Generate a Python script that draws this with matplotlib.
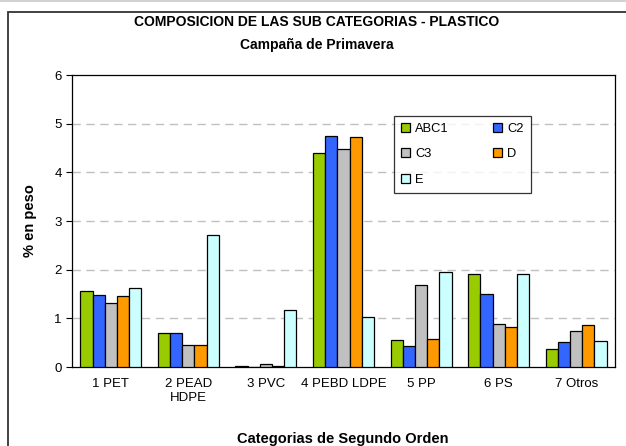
import matplotlib
matplotlib.use("Agg")
import matplotlib.pyplot as plt
import numpy as np
from matplotlib.patches import Rectangle
from matplotlib.lines import Line2D

plt.rcParams['font.family'] = ['Liberation Sans', 'DejaVu Sans']

categories = ["1 PET", "2 PEAD\nHDPE", "3 PVC", "4 PEBD LDPE", "5 PP", "6 PS", "7 Otros"]
series_names = ["ABC1", "C2", "C3", "D", "E"]
abc1 = [1.56, 0.70, 0.02, 4.39, 0.56, 1.92, 0.37]
c2 = [1.47, 0.70, 0.01, 4.75, 0.43, 1.49, 0.51]
c3 = [1.32, 0.45, 0.06, 4.47, 1.68, 0.89, 0.73]
d = [1.45, 0.45, 0.02, 4.73, 0.58, 0.83, 0.87]
e = [1.63, 2.71, 1.18, 1.02, 1.95, 1.92, 0.53]
series = [abc1, c2, c3, d, e]
colors = ["#99CC00", "#3366FF", "#C0C0C0", "#FF9900", "#CCFFFF"]

W, H = 626, 446
fig = plt.figure(figsize=(W / 100, H / 100), dpi=100)
ax = fig.add_axes([72 / W, 1 - 367 / H, (615 - 72) / W, (367 - 75) / H])

x = np.arange(len(categories))
bw = 0.157
handles = []
for i, (vals, col) in enumerate(zip(series, colors)):
    offs = (i - 2) * bw
    b = ax.bar(x + offs, vals, width=bw, color=col, edgecolor="black", linewidth=0.9,
               label=series_names[i], zorder=3)
    handles.append(b)

ax.set_xlim(-0.5, len(categories) - 0.5)
ax.set_ylim(0, 6)
ax.set_yticks(range(0, 7))
ax.set_xticks(x)
ax.set_xticklabels(categories, fontsize=9.5)
ax.tick_params(axis='y', labelsize=9.5, length=4, width=0.8, direction='out')
ax.tick_params(axis='x', length=0, pad=8)
for yv in range(1, 6):
    ax.axhline(yv, color="#C0C0C0", linestyle=(0, (6, 4)), linewidth=1.0, zorder=1)
for s in ax.spines.values():
    s.set_linewidth(0.9)
    s.set_color("black")

ax.set_ylabel("% en peso", fontsize=10.5, fontweight="bold")
ax.yaxis.set_label_coords(-0.064, 0.5)

fig.text(0.5 * (8 + 626) / W, 1 - 22.5 / H, "COMPOSICION DE LAS SUB CATEGORIAS - PLASTICO",
         ha="center", va="center", fontsize=10, fontweight="bold")
fig.text(0.5 * (8 + 626) / W, 1 - 45 / H, "Campaña de Primavera",
         ha="center", va="center", fontsize=10, fontweight="bold")
fig.text(343 / W, 1 - 439 / H, "Categorias de Segundo Orden",
         ha="center", va="center", fontsize=10.5, fontweight="bold")

order = [0, 2, 4, 1, 3]
leg = ax.legend([handles[k] for k in order], [series_names[k] for k in order],
                ncol=2, loc="upper left",
                bbox_to_anchor=((394 - 72) / (615 - 72), 1 - (116 - 75) / (367 - 75)),
                borderaxespad=0,
                fontsize=9.3, frameon=True, fancybox=False, edgecolor="black",
                handlelength=0.7, handleheight=0.7, handletextpad=0.4,
                columnspacing=3.4, labelspacing=1.02, borderpad=0.55)
leg.get_frame().set_linewidth(0.9)
leg.set_zorder(5)

fig.patches.append(Rectangle((8 / W, -0.01), 1.0, 1 - 12 / H + 0.01, transform=fig.transFigure,
                             fill=False, edgecolor="#333333", linewidth=1.3, figure=fig))
fig.lines.append(Line2D([0, 1], [1 - 1 / H, 1 - 1 / H], transform=fig.transFigure,
                        color="#C8C8C8", linewidth=1.2, figure=fig))

fig.savefig("out.png", dpi=100)
